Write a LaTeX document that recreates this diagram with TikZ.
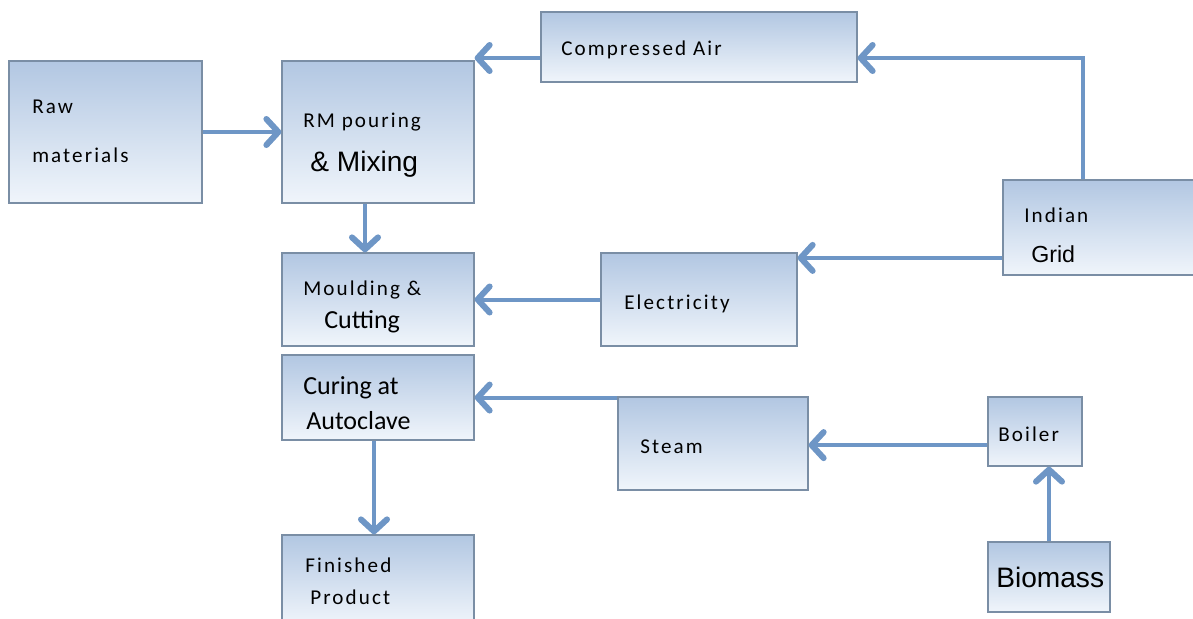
\documentclass[tikz,border=0pt]{standalone}
\usepackage{fontspec}
\usetikzlibrary{arrows.meta}
\setmainfont{Carlito}
\newfontfamily\spaced[LetterSpace=10]{Carlito}
\newfontfamily\arial{Liberation Sans}
\definecolor{boxTop}{RGB}{178,199,226}
\definecolor{boxBottom}{RGB}{240,245,251}
\definecolor{boxEdge}{RGB}{122,142,165}
\definecolor{flowBlue}{RGB}{110,150,198}

\begin{document}
\begin{tikzpicture}[x=0.025cm, y=-0.025cm,
    blk/.style 2 args={draw=boxEdge, line width=0.9pt, top color=boxTop, bottom color=boxBottom,
      minimum width=#1*0.025cm, minimum height=#2*0.025cm, inner sep=0pt},
    sp/.style={anchor=base west, inner sep=0pt, font=\spaced\fontsize{15}{17}\selectfont},
    cal/.style={anchor=base west, inner sep=0pt, font=\fontsize{18.5}{20}\selectfont},
    ari/.style={anchor=base west, inner sep=0pt, font=\arial\fontsize{#1}{#1}\selectfont},
    ari/.default=20,
    flow/.style={draw=flowBlue, line width=1mm,
      -{Straight Barb[length=3mm,width=6.5mm,line width=1.5mm,round]}}]
  \useasboundingbox (0,0) rectangle (1193,619);

  \node[blk={193}{142}] (raw) at (105.5,132) {};
  \node[blk={192}{142}] (rm) at (378,132) {};
  \node[blk={316}{70}] (air) at (699,47) {};
  \node[blk={197}{95}] (grid) at (1101.5,227.5) {};
  \node[blk={196}{93}] (elec) at (699,299.5) {};
  \node[blk={192}{93}] (mould) at (378,299.5) {};
  \node[blk={192}{85}] (cure) at (378,397.5) {};
  \node[blk={190}{93}] (steam) at (713,443.5) {};
  \node[blk={94}{69}] (boiler) at (1035,431.5) {};
  \node[blk={122}{70}] (biomass) at (1049,577) {};
  \node[blk={192}{90}] (fin) at (378,580) {};

  \node[sp] (rawA) at (32,113) {Raw};
  \node[sp] (rawB) at (32,162) {materials};
  \node[sp] (rmA) at (303,127) {RM pouring};
  \node[ari] (rmB) at (310,171) {\& Mixing};
  \node[sp] (airA) at (561,55) {Compressed Air};
  \node[sp] (gridA) at (1024,222) {Indian};
  \node[ari=16.5] (gridB) at (1031,262) {Grid};
  \node[sp] (elecA) at (624,309) {Electricity};
  \node[sp] (mouldA) at (303,295) {Moulding \&};
  \node[cal] (mouldB) at (324,328) {Cutting};
  \node[cal] (cureA) at (303,394) {Curing at};
  \node[cal] (cureB) at (306,429) {Autoclave};
  \node[sp] (steamA) at (640,453) {Steam};
  \node[sp] (boilerA) at (998,441) {Boiler};
  \node[ari] (biomassA) at (996,587) {Biomass};
  \node[sp] (finA) at (305,572) {Finished};
  \node[sp] (finB) at (310,604) {Product};

  \draw[flow] (raw) -- (rm);
  \draw[flow] ([xshift=-3.25mm]rm.south) -- ([xshift=-3.25mm]mould.north);
  \draw[flow] ([yshift=-2.75mm]air.west) -- ([yshift=-2.75mm]air.west -| rm.east);
  \draw[flow] ([xshift=-4.6mm]grid.north) |- ([yshift=-2.75mm]air.east);
  \draw[flow] ([yshift=-7.6mm]grid.west) -- ([yshift=-7.6mm]grid.west -| elec.east);
  \draw[flow] (elec) -- (mould);
  \draw[flow] ([yshift=-0.3mm]steam.north west) -- ([yshift=-0.3mm]steam.north west -| cure.east);
  \draw[flow] ([yshift=-3.4mm]boiler.west) -- ([yshift=-3.4mm]boiler.west -| steam.east);
  \draw[flow] (biomass.north) -- (biomass.north |- boiler.south);
  \draw[flow] ([xshift=-1mm]cure.south) -- ([xshift=-1mm]fin.north);
\end{tikzpicture}
\end{document}
